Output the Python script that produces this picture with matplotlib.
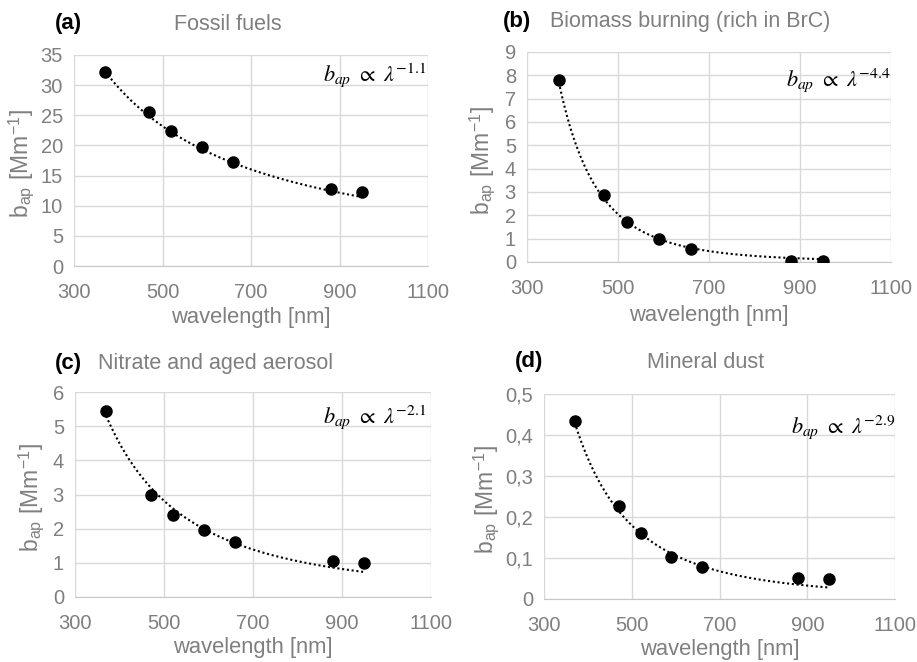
import numpy as np
import matplotlib
matplotlib.use("Agg")
import matplotlib.pyplot as plt

plt.rcParams['font.family'] = ['Liberation Sans', 'DejaVu Sans']
plt.rcParams['mathtext.fontset'] = 'stix'

# ── dati ──────────────────────────────────────────────────────
wavelength = [370, 470, 520, 590, 660, 880, 950]

bap_fossil  = [32.1, 25.6, 22.4, 19.7, 17.2, 12.8, 12.2]
bap_biomass = [7.8, 2.85, 1.7, 1.0, 0.55, 0.04, 0.04]
bap_nitrate = [5.45, 3.0, 2.4, 1.95, 1.6, 1.05, 1.0]
bap_dust    = [0.435, 0.228, 0.162, 0.103, 0.079, 0.052, 0.050]

aae       = [1.1, 4.4, 2.1, 2.9]          # esponenti mostrati
fit_at370 = [32.3, 7.7, 5.3, 0.43]        # valore del fit a 370 nm

titles  = ['Fossil fuels', 'Biomass burning (rich in BrC)',
           'Nitrate and aged aerosol', 'Mineral dust']
letters = ['(a)', '(b)', '(c)', '(d)']
yticks  = [[0, 5, 10, 15, 20, 25, 30, 35],
           [0, 1, 2, 3, 4, 5, 6, 7, 8, 9],
           [0, 1, 2, 3, 4, 5, 6],
           [0, 0.1, 0.2, 0.3, 0.4, 0.5]]
ytick_labels = [None, None, None, ['0', '0,1', '0,2', '0,3', '0,4', '0,5']]
xticks = [300, 500, 700, 900, 1100]

# ── layout (pixel) ────────────────────────────────────────────
W, H = 917, 662
GRAY = '#7f7f7f'
GRID = '#d9d9d9'

boxes = [(74, 55, 428, 266), (527, 52, 891, 262),
         (75, 392, 431, 597), (544, 394, 895, 599)]
letter_pos = [(68, 24), (517, 22), (68, 363), (529, 362)]
title_pos  = [(228, 24, 'center'), (550, 22, 'left'),
              (98, 363, 'left'), (706, 362, 'center')]
ann_pos    = [(426, 75), (890, 80), (426, 417), (895, 427)]
ylab_x     = [21, 482, 31, 486]
xlab_y     = [317, 315, 648, 650]

fig = plt.figure(figsize=(W / 100, H / 100), dpi=100)

def fx(px):
    return px / W

def fy(py):
    return 1 - py / H

series = [bap_fossil, bap_biomass, bap_nitrate, bap_dust]

for i, y in enumerate(series):
    x0, y0, x1, y1 = boxes[i]
    ax = fig.add_axes([fx(x0), fy(y1), (x1 - x0) / W, (y1 - y0) / H])

    lam = np.linspace(wavelength[0], wavelength[-1], 200)
    fit = fit_at370[i] * (lam / 370.0) ** (-aae[i])
    ax.plot(lam, fit, linestyle=(0, (1, 1.3)), color='black',
            linewidth=1.5, zorder=2)
    ax.plot(wavelength, y, 'o', color='black', markersize=8, zorder=3)

    ax.set_xlim(300, 1100)
    ax.set_ylim(yticks[i][0], yticks[i][-1])
    ax.set_xticks(xticks)
    ax.set_yticks(yticks[i])
    if ytick_labels[i] is not None:
        ax.set_yticklabels(ytick_labels[i])
    ax.tick_params(length=0, labelsize=14.5, colors=GRAY, pad=8)
    ax.tick_params(axis='x', pad=12)
    ax.grid(True, color=GRID, linewidth=1)
    ax.set_axisbelow(True)
    for s in ['top', 'right', 'left']:
        ax.spines[s].set_visible(False)
    ax.spines['bottom'].set_color('#c8c8c8')

    # etichetta asse x
    fig.text(fx((x0 + x1) / 2), fy(xlab_y[i]), 'wavelength [nm]',
             ha='center', va='center', fontsize=15.8, color=GRAY)

    # etichetta asse y
    fig.text(fx(ylab_x[i]), fy((y0 + y1) / 2 + 3),
             r'b$_{\mathregular{ap}}$ [Mm$^{\mathregular{-1}}$]',
             rotation=90, ha='center', va='center', fontsize=16.5, color=GRAY)

    lx, ly = letter_pos[i]
    fig.text(fx(lx), fy(ly), letters[i], ha='center', va='center',
             fontsize=16, fontweight='bold', color='black')
    tx, ty, ha = title_pos[i]
    fig.text(fx(tx), fy(ty), titles[i], ha=ha, va='center',
             fontsize=15.5, color=GRAY)
    axx, axy = ann_pos[i]
    fig.text(fx(axx), fy(axy), r'$b_{ap}\ \propto\ \lambda^{-%s}$' % aae[i],
             ha='right', va='center', fontsize=16, color='black')

fig.savefig('out.png', dpi=100)
